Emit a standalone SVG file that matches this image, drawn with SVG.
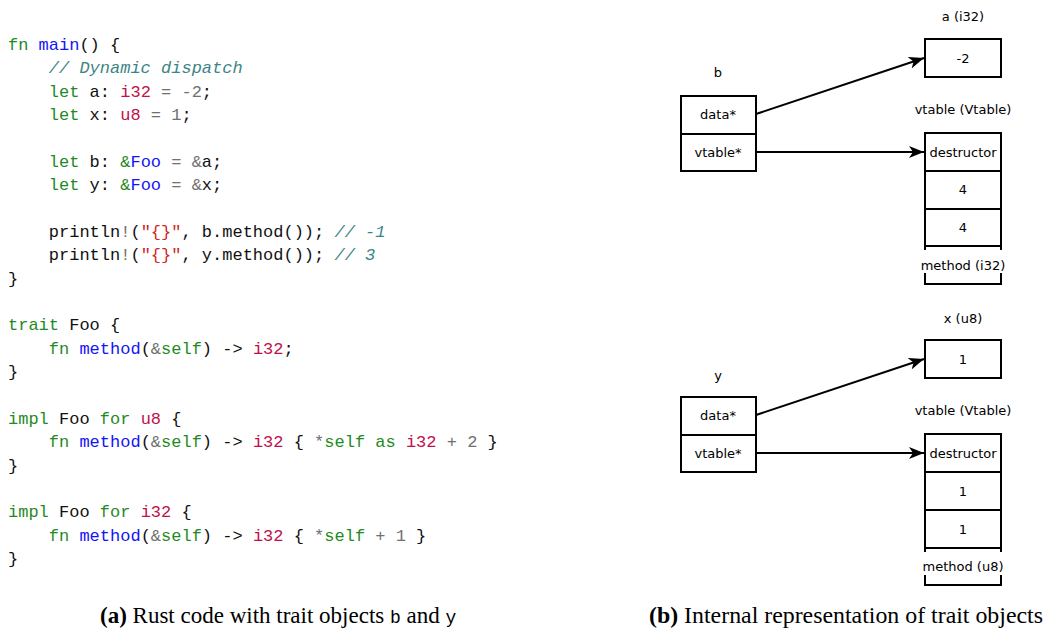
<svg xmlns="http://www.w3.org/2000/svg" width="1045" height="630" viewBox="0 0 1045 630">
<defs>
<style>
.code{font-family:"Liberation Mono","DejaVu Sans Mono",monospace;font-size:17px;fill:#111;white-space:pre}
.k{fill:#1f8a1f}
.f{fill:#1414f5}
.t{fill:#c0104a}
.g{fill:#707070}
.s{fill:#d02828}
.c{fill:#3d8585;font-style:italic}
.lbl{font-family:"DejaVu Sans","Liberation Sans",sans-serif;font-size:13px;fill:#000;text-anchor:middle}
.box{fill:#fff;stroke:#000;stroke-width:2}
.edge{stroke:#000;stroke-width:2;fill:none}
.cap{font-family:"Liberation Serif","Times New Roman",serif;font-size:23px;fill:#000;white-space:pre}
.tt{font-family:"Liberation Mono",monospace;font-size:18px}
</style>
<marker id="arr" viewBox="0 0 15 12" refX="15" refY="6" markerWidth="15" markerHeight="12" markerUnits="userSpaceOnUse" orient="auto">
<path d="M0,0 L15,6 L0,12 L4,6 z" fill="#000"/>
</marker>
</defs>

<g id="code">
<text class="code" x="8" y="50"><tspan class="k">fn</tspan> <tspan class="f">main</tspan>() {</text>
<text class="code" x="8" y="73.4"><tspan class="c">    // Dynamic dispatch</tspan></text>
<text class="code" x="8" y="96.7">    <tspan class="k">let</tspan> a: <tspan class="t">i32</tspan><tspan class="g"> = -2</tspan>;</text>
<text class="code" x="8" y="120.1">    <tspan class="k">let</tspan> x: <tspan class="t">u8</tspan><tspan class="g"> = 1</tspan>;</text>
<text class="code" x="8" y="166.8">    <tspan class="k">let</tspan> b: <tspan class="k">&amp;</tspan><tspan class="f">Foo</tspan><tspan class="g"> = &amp;</tspan>a;</text>
<text class="code" x="8" y="190.2">    <tspan class="k">let</tspan> y: <tspan class="k">&amp;</tspan><tspan class="f">Foo</tspan><tspan class="g"> = &amp;</tspan>x;</text>
<text class="code" x="8" y="236.9">    println<tspan class="g">!</tspan>(<tspan class="s">"{}"</tspan>, b.method()); <tspan class="c">// -1</tspan></text>
<text class="code" x="8" y="260.2">    println<tspan class="g">!</tspan>(<tspan class="s">"{}"</tspan>, y.method()); <tspan class="c">// 3</tspan></text>
<text class="code" x="8" y="283.6">}</text>
<text class="code" x="8" y="330.3"><tspan class="k">trait</tspan> Foo {</text>
<text class="code" x="8" y="353.7">    <tspan class="k">fn</tspan> <tspan class="f">method</tspan>(<tspan class="g">&amp;</tspan><tspan class="k">self</tspan>) -&gt; <tspan class="t">i32</tspan>;</text>
<text class="code" x="8" y="377">}</text>
<text class="code" x="8" y="423.7"><tspan class="k">impl</tspan> Foo <tspan class="k">for</tspan> <tspan class="t">u8</tspan> {</text>
<text class="code" x="8" y="447.1">    <tspan class="k">fn</tspan> <tspan class="f">method</tspan>(<tspan class="g">&amp;</tspan><tspan class="k">self</tspan>) -&gt; <tspan class="t">i32</tspan> { <tspan class="g">*</tspan><tspan class="k">self</tspan> <tspan class="k">as</tspan> <tspan class="t">i32</tspan><tspan class="g"> + 2</tspan> }</text>
<text class="code" x="8" y="470.5">}</text>
<text class="code" x="8" y="517.2"><tspan class="k">impl</tspan> Foo <tspan class="k">for</tspan> <tspan class="t">i32</tspan> {</text>
<text class="code" x="8" y="540.5">    <tspan class="k">fn</tspan> <tspan class="f">method</tspan>(<tspan class="g">&amp;</tspan><tspan class="k">self</tspan>) -&gt; <tspan class="t">i32</tspan> { <tspan class="g">*</tspan><tspan class="k">self</tspan><tspan class="g"> + 1</tspan> }</text>
<text class="code" x="8" y="563.9">}</text>
</g>

<g id="connectors">
<line class="edge" x1="756" y1="114" x2="924" y2="58" marker-end="url(#arr)"/>
<line class="edge" x1="756" y1="152" x2="924" y2="152" marker-end="url(#arr)"/>
<line class="edge" x1="756" y1="415" x2="924" y2="359" marker-end="url(#arr)"/>
<line class="edge" x1="756" y1="453" x2="924" y2="453" marker-end="url(#arr)"/>
</g>

<g id="node-a">
<text class="lbl" x="963" y="21">a (i32)</text>
<rect class="box" x="925" y="39" width="76" height="38"/>
<text class="lbl" x="963" y="63">-2</text>
</g>

<g id="node-b">
<text class="lbl" x="718" y="77">b</text>
<rect class="box" x="681" y="96" width="75" height="38"/>
<rect class="box" x="681" y="134" width="75" height="37"/>
<text class="lbl" x="718" y="119">data*</text>
<text class="lbl" x="718" y="157">vtable*</text>
</g>

<g id="node-vtable-i32">
<text class="lbl" x="963" y="114">vtable (Vtable)</text>
<rect class="box" x="925" y="133" width="76" height="38"/>
<rect class="box" x="925" y="171" width="76" height="38"/>
<rect class="box" x="925" y="209" width="76" height="37"/>
<rect class="box" x="925" y="246" width="76" height="38"/>
<rect x="916" y="250" width="94" height="23" fill="#fff"/>
<text class="lbl" x="963" y="157">destructor</text>
<text class="lbl" x="963" y="194">4</text>
<text class="lbl" x="963" y="232">4</text>
<text class="lbl" x="963" y="270">method (i32)</text>
</g>

<g id="node-x">
<text class="lbl" x="963" y="323">x (u8)</text>
<rect class="box" x="925" y="340" width="76" height="38"/>
<text class="lbl" x="963" y="364">1</text>
</g>

<g id="node-y">
<text class="lbl" x="718" y="380">y</text>
<rect class="box" x="681" y="397" width="75" height="38"/>
<rect class="box" x="681" y="435" width="75" height="37"/>
<text class="lbl" x="718" y="420">data*</text>
<text class="lbl" x="718" y="458">vtable*</text>
</g>

<g id="node-vtable-u8">
<text class="lbl" x="963" y="415">vtable (Vtable)</text>
<rect class="box" x="925" y="434" width="76" height="38"/>
<rect class="box" x="925" y="472" width="76" height="38"/>
<rect class="box" x="925" y="510" width="76" height="38"/>
<rect class="box" x="925" y="548" width="76" height="37"/>
<rect x="916" y="552" width="94" height="23" fill="#fff"/>
<text class="lbl" x="963" y="458">destructor</text>
<text class="lbl" x="963" y="496">1</text>
<text class="lbl" x="963" y="534">1</text>
<text class="lbl" x="963" y="571">method (u8)</text>
</g>

<g id="captions">
<text class="cap" x="100" y="623"><tspan font-weight="bold">(a)</tspan> Rust code with trait objects <tspan class="tt">b</tspan> and <tspan class="tt">y</tspan></text>
<text class="cap" x="649" y="623" textLength="394" lengthAdjust="spacingAndGlyphs"><tspan font-weight="bold">(b)</tspan> Internal representation of trait objects</text>
</g>
</svg>
